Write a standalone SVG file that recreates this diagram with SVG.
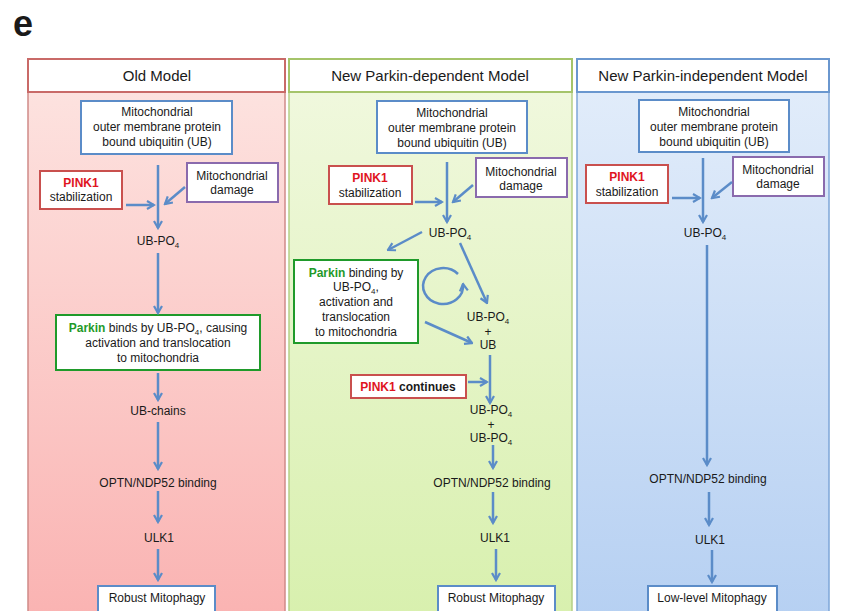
<svg xmlns="http://www.w3.org/2000/svg" width="841" height="611" viewBox="0 0 841 611">
<defs>
<linearGradient id="gRed" x1="0" y1="0" x2="0" y2="1"><stop offset="0" stop-color="#fde2df"/><stop offset="1" stop-color="#fab3b2"/></linearGradient>
<linearGradient id="gGreen" x1="0" y1="0" x2="0" y2="1"><stop offset="0" stop-color="#f0f8dd"/><stop offset="1" stop-color="#d8f0ae"/></linearGradient>
<linearGradient id="gBlue" x1="0" y1="0" x2="0" y2="1"><stop offset="0" stop-color="#e1ecfa"/><stop offset="1" stop-color="#b6d0f2"/></linearGradient>
<marker id="ah" viewBox="0 0 10 10" refX="8.5" refY="5" markerWidth="10" markerHeight="10" markerUnits="userSpaceOnUse" orient="auto">
<path d="M1.5,1 L8.5,5 L1.5,9" fill="none" stroke="#5b8cc8" stroke-width="2.2" stroke-linejoin="miter"/>
</marker>
</defs>
<style>
text{font-family:"Liberation Sans",Arial,sans-serif;font-size:12px;fill:#1a1a1a;text-anchor:middle}
.hd{font-size:15px}
.b{font-weight:bold}
.pk{fill:#e0141e;font-weight:bold}
.pa{fill:#1f9a2a;font-weight:bold}
.sub{font-size:8px}
.box{fill:#fff;stroke-width:2}
.bb{stroke:#5b8cc8}
.rb{stroke:#c9504e}
.pb{stroke:#8a6aad}
.gb{stroke:#1f9a2a}
.con path,.con line{fill:none;stroke:#5b8cc8;stroke-width:2.5;marker-end:url(#ah)}
</style>
<rect width="841" height="611" fill="#fff"/>
<text x="23" y="36" class="b" style="font-size:36px">e</text>

<g id="panel-old">
<rect x="28" y="92" width="257" height="525" fill="url(#gRed)" stroke="#d08a88" stroke-width="1.5"/>
<rect x="28" y="59" width="257" height="33" class="box" stroke="#c96a68"/>
<text x="157" y="81" class="hd">Old Model</text>
</g>
<g id="panel-dep">
<rect x="289" y="92" width="283" height="525" fill="url(#gGreen)" stroke="#b5cf86" stroke-width="1.5"/>
<rect x="289" y="59" width="283" height="33" class="box" stroke="#a5c46a"/>
<text x="430" y="81" class="hd">New Parkin-dependent Model</text>
</g>
<g id="panel-indep">
<rect x="577" y="92" width="252" height="525" fill="url(#gBlue)" stroke="#7ea6d8" stroke-width="1.5"/>
<rect x="577" y="59" width="252" height="33" class="box" stroke="#6a97cf"/>
<text x="703" y="81" class="hd">New Parkin-independent Model</text>
</g>

<!-- Old model nodes -->
<g id="old-ub"><rect x="81" y="101" width="151" height="53" class="box bb"/>
<text x="157" y="116">Mitochondrial</text><text x="157" y="131">outer membrane protein</text><text x="157" y="146">bound ubiquitin (UB)</text></g>
<g id="old-pink1"><rect x="40" y="171" width="82" height="38" class="box rb"/>
<text x="81" y="187" class="pk">PINK1</text><text x="81" y="201">stabilization</text></g>
<g id="old-damage"><rect x="187" y="163" width="91" height="39" class="box pb"/>
<text x="232" y="180">Mitochondrial</text><text x="232" y="194">damage</text></g>
<g id="old-ubpo4"><text x="158" y="245">UB-PO<tspan class="sub" dy="3">4</tspan></text></g>
<g id="old-parkin"><rect x="56" y="315" width="204" height="55" class="box gb"/>
<text x="158" y="332"><tspan class="pa">Parkin</tspan> binds by UB-PO<tspan class="sub" dy="3">4</tspan><tspan dy="-3">, causing</tspan></text>
<text x="158" y="347">activation and translocation</text><text x="158" y="362">to mitochondria</text></g>
<g id="old-chains"><text x="158" y="415">UB-chains</text></g>
<g id="old-optn"><text x="158" y="487">OPTN/NDP52 binding</text></g>
<g id="old-ulk1"><text x="159" y="542">ULK1</text></g>
<g id="old-robust"><rect x="98" y="586" width="117" height="30" class="box bb"/>
<text x="157" y="602">Robust Mitophagy</text></g>

<!-- Parkin-dependent nodes -->
<g id="dep-ub"><rect x="377" y="101" width="150" height="52" class="box bb"/>
<text x="452" y="117">Mitochondrial</text><text x="452" y="132">outer membrane protein</text><text x="452" y="147">bound ubiquitin (UB)</text></g>
<g id="dep-pink1"><rect x="329" y="166" width="83" height="38" class="box rb"/>
<text x="370" y="182" class="pk">PINK1</text><text x="370" y="197">stabilization</text></g>
<g id="dep-damage"><rect x="476" y="158" width="91" height="39" class="box pb"/>
<text x="521" y="176">Mitochondrial</text><text x="521" y="190">damage</text></g>
<g id="dep-ubpo4"><text x="450" y="237">UB-PO<tspan class="sub" dy="3">4</tspan></text></g>
<g id="dep-parkin"><rect x="294" y="260" width="124" height="83" class="box gb"/>
<text x="356" y="277"><tspan class="pa">Parkin</tspan> binding by</text>
<text x="356" y="291">UB-PO<tspan class="sub" dy="3">4</tspan><tspan dy="-3">,</tspan></text>
<text x="356" y="306">activation and</text><text x="356" y="321">translocation</text><text x="356" y="336">to mitochondria</text></g>
<g id="dep-ubpo4-ub"><text x="488" y="321">UB-PO<tspan class="sub" dy="3">4</tspan></text>
<text x="488" y="336">+</text><text x="488" y="349">UB</text></g>
<g id="dep-pink1-cont"><rect x="351" y="375" width="115" height="23" class="box rb"/>
<text x="408" y="391" class="b"><tspan class="pk">PINK1</tspan> continues</text></g>
<g id="dep-ubpo4-2"><text x="491" y="414">UB-PO<tspan class="sub" dy="3">4</tspan></text>
<text x="491" y="429">+</text><text x="491" y="442">UB-PO<tspan class="sub" dy="3">4</tspan></text></g>
<g id="dep-optn"><text x="492" y="487">OPTN/NDP52 binding</text></g>
<g id="dep-ulk1"><text x="495" y="542">ULK1</text></g>
<g id="dep-robust"><rect x="438" y="586" width="117" height="30" class="box bb"/>
<text x="496" y="602">Robust Mitophagy</text></g>

<!-- Parkin-independent nodes -->
<g id="ind-ub"><rect x="639" y="100" width="150" height="52" class="box bb"/>
<text x="714" y="116">Mitochondrial</text><text x="714" y="131">outer membrane protein</text><text x="714" y="146">bound ubiquitin (UB)</text></g>
<g id="ind-pink1"><rect x="586" y="165" width="82" height="38" class="box rb"/>
<text x="627" y="181" class="pk">PINK1</text><text x="627" y="196">stabilization</text></g>
<g id="ind-damage"><rect x="733" y="157" width="91" height="39" class="box pb"/>
<text x="778" y="174">Mitochondrial</text><text x="778" y="188">damage</text></g>
<g id="ind-ubpo4"><text x="705" y="237">UB-PO<tspan class="sub" dy="3">4</tspan></text></g>
<g id="ind-optn"><text x="708" y="483">OPTN/NDP52 binding</text></g>
<g id="ind-ulk1"><text x="710" y="544">ULK1</text></g>
<g id="ind-low"><rect x="648" y="586" width="129" height="30" class="box bb"/>
<text x="712" y="602">Low-level Mitophagy</text></g>

<g id="connectors" class="con">
<line x1="158" y1="165" x2="158" y2="228"/>
<line x1="126" y1="205" x2="154" y2="205"/>
<line x1="185" y1="187" x2="165" y2="204"/>
<line x1="158" y1="253" x2="158" y2="313"/>
<line x1="158" y1="373" x2="158" y2="400"/>
<line x1="158" y1="422" x2="158" y2="469"/>
<line x1="158" y1="491" x2="158" y2="522"/>
<line x1="158" y1="549" x2="158" y2="580"/>

<line x1="447" y1="162" x2="447" y2="222"/>
<line x1="415" y1="202" x2="442" y2="202"/>
<line x1="473" y1="185" x2="453" y2="202"/>
<line x1="422" y1="232" x2="388" y2="250"/>
<line x1="460" y1="243" x2="487" y2="303"/>
<path d="M458,274 A20,18 0 1 0 463,284"/>
<line x1="425" y1="322" x2="472" y2="343"/>
<line x1="490" y1="355" x2="490" y2="403"/>
<line x1="468" y1="382" x2="487" y2="382"/>
<line x1="493" y1="445" x2="493" y2="468"/>
<line x1="493" y1="492" x2="493" y2="523"/>
<line x1="496" y1="549" x2="496" y2="580"/>

<line x1="703" y1="158" x2="703" y2="222"/>
<line x1="672" y1="198" x2="700" y2="198"/>
<line x1="732" y1="182" x2="712" y2="198"/>
<line x1="707" y1="245" x2="707" y2="465"/>
<line x1="709" y1="492" x2="709" y2="525"/>
<line x1="712" y1="550" x2="712" y2="582"/>
</g>
</svg>
